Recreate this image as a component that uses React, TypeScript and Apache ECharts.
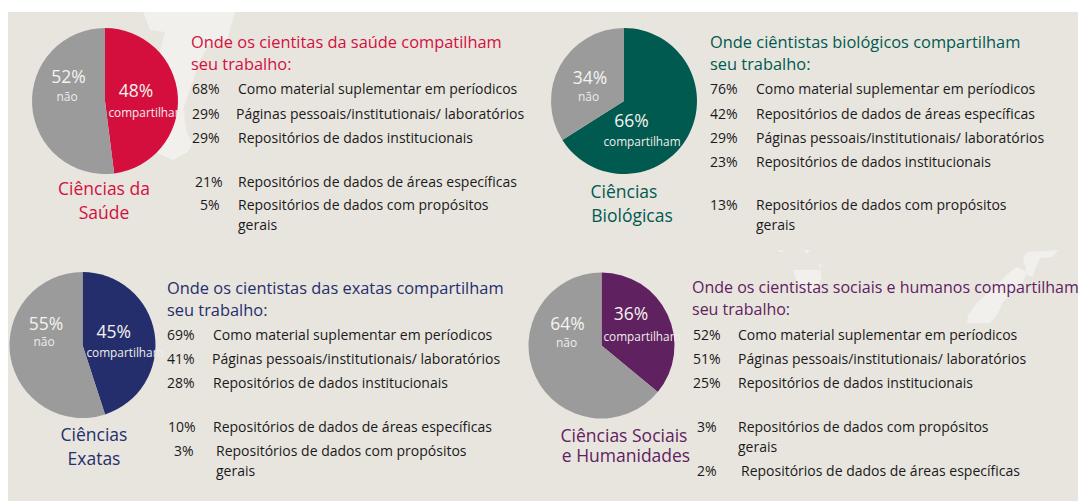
import React, { useEffect, useRef } from "react";
import * as echarts from "echarts";

const FONT = "'Open Sans', 'Noto Sans', sans-serif";
const W = 1078, H = 501;

const healthShares = [48, 52];
const bioShares = [66, 34];
const exactShares = [45, 55];
const socialShares = [36, 64];

const healthColor = "#d40f3e";
const bioColor = "#005a50";
const exactColor = "#252e6c";
const socialColor = "#5f2160";
const grey = "#9b9b9b";

const healthTitle = ["Onde os cientitas da saúde compatilham", "seu trabalho:"];
const bioTitle = ["Onde ciêntistas biológicos compartilham", "seu trabalho:"];
const exactTitle = ["Onde os cientistas das exatas compartilham", "seu trabalho:"];
const socialTitle = ["Onde os cientistas sociais e humanos compartilham", "seu trabalho:"];

const healthName = ["Ciências da", "Saúde"];
const bioName = ["Ciências", "Biológicas"];
const exactName = ["Ciências", "Exatas"];
const socialName = ["Ciências Sociais", "e Humanidades"];

const healthPct = ["68%", "29%", "29%", "21%", "5%"];
const healthText = ["Como material suplementar em períodicos", "Páginas pessoais/institutionais/ laboratórios", "Repositórios de dados institucionais", "Repositórios de dados de áreas específicas", "Repositórios de dados com propósitos\ngerais"];
const bioPct = ["76%", "42%", "29%", "23%", "13%"];
const bioText = ["Como material suplementar em períodicos", "Repositórios de dados de áreas específicas", "Páginas pessoais/institutionais/ laboratórios", "Repositórios de dados institucionais", "Repositórios de dados com propósitos\ngerais"];
const exactPct = ["69%", "41%", "28%", "10%", "3%"];
const exactText = ["Como material suplementar em períodicos", "Páginas pessoais/institutionais/ laboratórios", "Repositórios de dados institucionais", "Repositórios de dados de áreas específicas", "Repositórios de dados com propósitos\ngerais"];
const socialPct = ["52%", "51%", "25%", "3%", "2%"];
const socialText = ["Como material suplementar em períodicos", "Páginas pessoais/institutionais/ laboratórios", "Repositórios de dados institucionais", "Repositórios de dados com propósitos\ngerais", "Repositórios de dados de áreas específicas"];

const panels = [
  { color: healthColor, shares: healthShares, title: healthTitle, titleSize: 16.4, name: healthName, pct: healthPct, text: healthText,
    cx: 105, cy: 101, tx: 191, ty: 41, nameX: [104, 104], nameY: [188, 212],
    a: [136, 90], b: [68.5, 76], c: [147, 112], d: [67, 96],
    px: [192, 192, 192, 195, 200], lx: [238, 236, 238, 238, 238], ly: [88, 113, 137, 181, 204] },
  { color: bioColor, shares: bioShares, title: bioTitle, titleSize: 16.4, name: bioName, pct: bioPct, text: bioText,
    cx: 624, cy: 101, tx: 710, ty: 41, nameX: [624, 632], nameY: [191, 215],
    a: [631.5, 120], b: [590, 77], c: [642, 141], d: [588.5, 96],
    px: [710, 710, 710, 710, 710], lx: [756, 756, 756, 756, 756], ly: [88, 113, 137, 161, 204] },
  { color: exactColor, shares: exactShares, title: exactTitle, titleSize: 16.4, name: exactName, pct: exactPct, text: exactText,
    cx: 82.5, cy: 345, tx: 167, ty: 287, nameX: [94, 94], nameY: [434, 458],
    a: [113.7, 331], b: [46, 323], c: [125, 352], d: [44, 341.7],
    px: [167, 167, 167, 168, 174], lx: [213, 212, 213, 213, 216], ly: [334, 358, 382, 426, 450] },
  { color: socialColor, shares: socialShares, title: socialTitle, titleSize: 16, name: socialName, pct: socialPct, text: socialText,
    cx: 601.5, cy: 345.5, tx: 692, ty: 287, nameX: [624, 626], nameY: [435, 455],
    a: [631, 313], b: [567.5, 323], c: [642, 336], d: [566.5, 342],
    px: [693, 693, 693, 697, 697], lx: [738, 738, 738, 738, 741], ly: [334, 358, 382, 426, 470] },
];

const mapShapes: number[][][] = [
  [[143, 12], [235, 12], [227, 40], [210, 43], [200, 60], [183, 110], [187, 133], [193, 143], [188, 152], [173, 160], [157, 153], [150, 90], [165, 32], [150, 30]],
  [[1027, 252], [1058, 250], [1053, 257], [1040, 258], [1032, 277], [1027, 275], [1023, 258]],
  [[1017, 267], [1027, 272], [1023, 282], [1003, 302], [997, 315], [990, 323], [967, 323], [968, 315], [977, 303], [1000, 282], [1010, 272]],
  [[793, 270], [820, 270], [822, 278], [813, 295], [803, 288], [797, 282]],
  [[778, 250], [787, 251], [779, 252]],
  [[803, 250], [810, 250], [807, 254]],
  [[818, 261], [822, 267], [820, 268]],
];

export default function App() {
  const ref = useRef<HTMLDivElement>(null);
  useEffect(() => {
    const chart = echarts.init(ref.current!, null, { renderer: "svg" });
    const graphic: any[] = [
      { type: "rect", z: -10, shape: { x: 8, y: 12, width: W - 8, height: H - 12 }, style: { fill: "#e8e5df" } },
    ];
    mapShapes.forEach((points) =>
      graphic.push({ type: "polygon", z: -9, shape: { points }, style: { fill: "#f1f0ec" } })
    );
    const txt = (x: number, y: number, text: string, fontSize: number, fill: string, align = "left", lineHeight?: number) =>
      graphic.push({
        type: "text", x, y, z: 20,
        style: { text, fontSize, fill, align, verticalAlign: "middle", fontFamily: FONT, lineHeight },
      });
    panels.forEach((p) => {
      p.title.forEach((t, i) => txt(p.tx, p.ty + i * 22, t, p.titleSize, p.color, "left", 20));
      p.name.forEach((t, i) => txt(p.nameX[i], p.nameY[i], t, 17.5, p.color, "center", 18));
      p.pct.forEach((t, i) => txt(p.px[i], p.ly[i], t, 14, "#1a1a1a", "left", 16));
      p.text.forEach((t, i) => {
        t.split("\n").forEach((line, j) => txt(p.lx[i], p.ly[i] + j * 20, line, 14, "#1a1a1a", "left", 16));
      });
      txt(p.a[0], p.a[1], p.shares[0] + "%", 17.5, "#f5f3ee", "center", 16);
      txt(p.b[0], p.b[1], p.shares[1] + "%", 17.5, "#f5f3ee", "center", 16);
      txt(p.c[0], p.c[1], "compartilham", 11.8, "#f0eeea", "center", 14);
      txt(p.d[0], p.d[1], "não", 12, "#ececec", "center", 14);
    });
    chart.setOption({
      animation: false,
      backgroundColor: "transparent",
      graphic,
      series: panels.map((p) => ({
        type: "pie",
        center: [p.cx, p.cy],
        radius: [0, 73],
        startAngle: 90,
        clockwise: true,
        silent: true,
        label: { show: false },
        labelLine: { show: false },
        data: [
          { value: p.shares[0], name: "compartilham", itemStyle: { color: p.color } },
          { value: p.shares[1], name: "não", itemStyle: { color: grey } },
        ],
      })),
    });
    return () => chart.dispose();
  }, []);
  return <div ref={ref} style={{ position: "absolute", left: 0, top: 0, width: W, height: H }} />;
}
